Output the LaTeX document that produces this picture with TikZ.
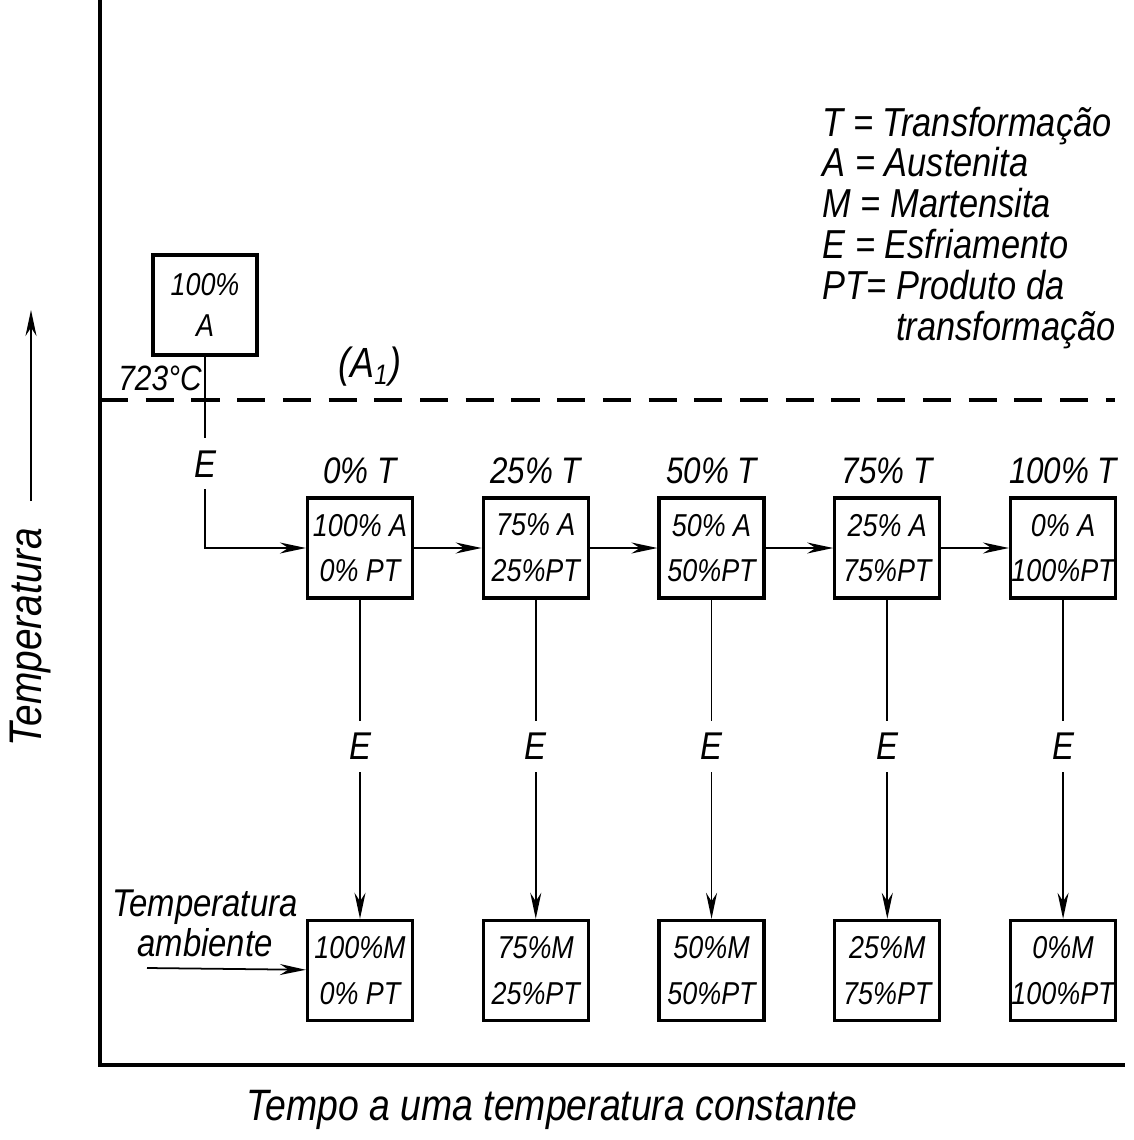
\documentclass[tikz,border=0pt]{standalone}
\usepackage{fontspec}
\setmainfont{Liberation Sans}[FakeStretch=0.85]
\usetikzlibrary{positioning, arrows.meta}

\tikzset{
  handbox/.style={draw, line width=0.9pt, minimum width=1.05cm, minimum height=1cm,
    inner sep=0pt, align=center, font=\fontsize{9}{13}\selectfont\itshape},
  flow/.style={-{Stealth[length=2.6mm, width=1.1mm]}, line width=0.5pt},
  elabel/.style={fill=white, inner sep=1.2mm, font=\fontsize{11}{13}\selectfont\itshape},
  steplabel/.style={font=\fontsize{10.5}{12}\selectfont\itshape},
  axisline/.style={line width=1pt},
}

\begin{document}
\begin{tikzpicture}[x=0.01cm, y=-0.01cm]
  \useasboundingbox (0,0) rectangle (1134,1140);

  % axes
  \coordinate (ytop) at (100,0);
  \coordinate (origin) at (100,1065);
  \coordinate (xend) at (1125,1065);
  \draw[axisline] (ytop) -- (origin) -- (xend);
  \node[rotate=90, font=\fontsize{13}{15}\selectfont\itshape] (ylabel) at (31,637) {Temperatura};
  \coordinate (ytip) at (31,310);
  \draw[flow] ([yshift=4pt]ylabel.east) -- (ylabel.east |- ytip);
  \node[font=\fontsize{12.5}{14}\selectfont\itshape] (xlabel) at (552,1110) {Tempo a uma temperatura constante};

  % A1 line
  \coordinate (a1left) at (100,400);
  \coordinate (a1right) at (1115,400);
  \draw[line width=1.3pt, dash pattern=on 8pt off 5pt] (a1left) -- (a1right);
  \node[font=\fontsize{12}{14}\selectfont\itshape] (a1) at (370,367) {(A\textsubscript{1})};
  \node[font=\fontsize{10}{12}\selectfont\itshape] (t723) at (160,378) {723°C};

  % legend
  \node[anchor=north west, inner sep=0pt, align=left,
        font=\fontsize{11.5}{11.65}\selectfont\itshape] (legend) at (822,106)
    {T = Transformação\\A = Austenita\\M = Martensita\\E = Esfriamento\\PT= Produto da\\\phantom{PT= }transformação};

  % austenite start
  \node[handbox, minimum width=1.04cm] (aus) at (205,305) {100\%\\[-1.3pt]A};

  % isothermal row
  \node[handbox, label={[steplabel]above:{0\% T}}] (b1) at (360,548) {100\% A\\0\% PT};
  \node[handbox, right=0.675cm of b1, label={[steplabel]above:{25\% T}}] (b2) {75\% A\\25\%PT};
  \node[handbox, right=0.675cm of b2, label={[steplabel]above:{50\% T}}] (b3) {50\% A\\50\%PT};
  \node[handbox, right=0.675cm of b3, label={[steplabel]above:{75\% T}}] (b4) {25\% A\\75\%PT};
  \node[handbox, right=0.675cm of b4, label={[steplabel]above:{100\% T}}] (b5) {0\% A\\100\%PT};

  % room temperature row
  \node[handbox, below=3.19cm of b1] (m1) {100\%M\\0\% PT};
  \node[handbox, below=3.19cm of b2] (m2) {75\%M\\25\%PT};
  \node[handbox, below=3.19cm of b3] (m3) {50\%M\\50\%PT};
  \node[handbox, below=3.19cm of b4] (m4) {25\%M\\75\%PT};
  \node[handbox, below=3.19cm of b5] (m5) {0\%M\\100\%PT};

  \node[font=\fontsize{11}{11.4}\selectfont\itshape, align=center] (amb) at (205,923) {Temperatura\\ambiente};
  \coordinate (ambtail) at (147,968);
  \draw[flow] (ambtail) -- (m1);

  % connectors
  \draw[flow] (aus) |- node[elabel, pos=0.28] {E} (b1);
  \draw[flow] (b1) -- (b2);
  \draw[flow] (b2) -- (b3);
  \draw[flow] (b3) -- (b4);
  \draw[flow] (b4) -- (b5);
  \draw[flow] (b1) -- node[elabel, pos=0.46] {E} (m1);
  \draw[flow] (b2) -- node[elabel, pos=0.46] {E} (m2);
  \draw[flow] (b3) -- node[elabel, pos=0.46] {E} (m3);
  \draw[flow] (b4) -- node[elabel, pos=0.46] {E} (m4);
  \draw[flow] (b5) -- node[elabel, pos=0.46] {E} (m5);
\end{tikzpicture}
\end{document}
